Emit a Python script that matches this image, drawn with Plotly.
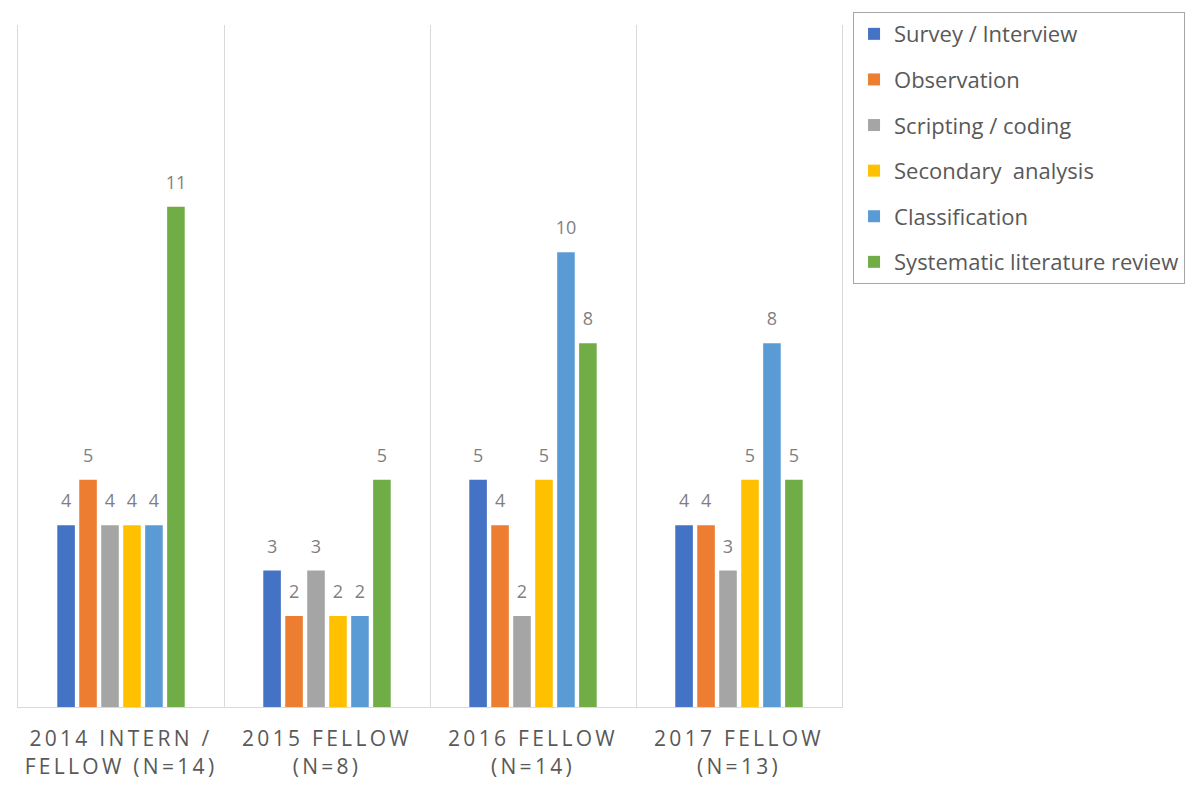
import plotly.graph_objects as go

categories = ["2014 INTERN /<br>FELLOW (N=14)", "2015 FELLOW<br>(N=8)",
              "2016 FELLOW<br>(N=14)", "2017 FELLOW<br>(N=13)"]

series_names = ["Survey / Interview", "Observation", "Scripting / coding",
                "Secondary  analysis", "Classification", "Systematic literature review"]

survey = [4, 3, 5, 4]
observation = [5, 2, 4, 4]
scripting = [4, 3, 2, 3]
secondary = [4, 2, 5, 5]
classification = [4, 2, 10, 8]
literature = [11, 5, 8, 5]

colors = ["#4472C4", "#ED7D31", "#A5A5A5", "#FFC000", "#5B9BD5", "#70AD47"]

all_values = [survey, observation, scripting, secondary, classification, literature]

fig = go.Figure()
for i, (name, vals) in enumerate(zip(series_names, all_values)):
    fig.add_trace(go.Bar(
        name=name, x=categories, y=vals,
        marker_color=colors[i], marker_line_width=0,
        legendgroup=name,
    ))

# value labels: grouped scatter so they sit over the bars, with an
# invisible marker to push the text up off the bar top
for i, (name, vals) in enumerate(zip(series_names, all_values)):
    fig.add_trace(go.Scatter(
        x=categories, y=vals, mode="markers+text",
        text=vals, textposition="top center",
        textfont=dict(color="#7f7f7f", size=18),
        marker=dict(size=20, opacity=0),
        showlegend=False, hoverinfo="skip", cliponaxis=False,
    ))

# page body has an 8px margin, so margins are shifted to compensate
fig.update_layout(
    barmode="group", bargap=0.36, bargroupgap=0.2,
    scattermode="group", scattergap=0.36,
    width=1200, height=788,
    margin=dict(l=10, r=366, t=17, b=89, autoexpand=False),
    paper_bgcolor="white", plot_bgcolor="white",
    font=dict(family="Open Sans, sans-serif", color="#595959"),
    legend=dict(
        x=1.0134, y=1.019, xanchor="left", yanchor="top",
        bordercolor="#a6a6a6", borderwidth=1,
        font=dict(size=22, color="#595959"),
        traceorder="grouped", tracegroupgap=14,
    ),
    showlegend=True,
)
fig.update_xaxes(
    tickson="boundaries", showgrid=True, gridcolor="#d9d9d9", gridwidth=1,
    showline=True, linecolor="#d9d9d9", ticks="", ticklabelstandoff=13,
    tickfont=dict(size=21, color="#595959"),
)
fig.update_yaxes(
    range=[0, 15], showticklabels=False, showgrid=False, zeroline=False,
    showline=True, linecolor="#d9d9d9", mirror=True,
)

spacing_js = "document.querySelectorAll('.xtick text').forEach(function(t){t.style.letterSpacing='3.3px';});"
fig.write_html("out.html", post_script=spacing_js)
